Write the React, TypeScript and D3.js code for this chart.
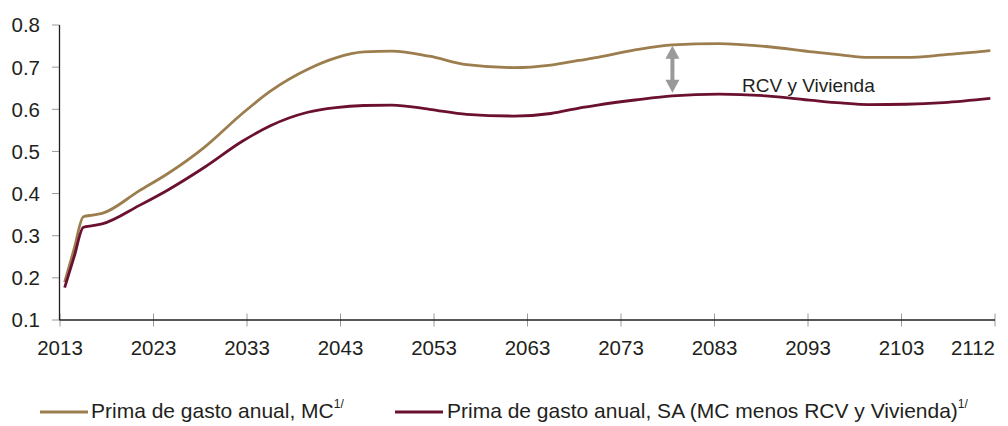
import React from 'react';
import * as d3 from 'd3';

// years (knots of the smoothed curves)
const years = [
  2013, 2014, 2015, 2016, 2017, 2021, 2024, 2028, 2032, 2035, 2039, 2042, 2045, 2048, 2052,
  2056, 2061, 2065, 2068, 2070, 2074, 2078, 2083, 2088, 2093, 2096, 2099, 2103, 2107, 2112,
];
// Prima de gasto anual, MC
const mcValues = [
  0.19, 0.268, 0.345, 0.349, 0.353, 0.407, 0.447, 0.511, 0.59, 0.643, 0.695, 0.722, 0.736, 0.738, 0.726,
  0.706, 0.699, 0.705, 0.716, 0.723, 0.741, 0.753, 0.756, 0.749, 0.736, 0.729, 0.723, 0.723, 0.729, 0.739,
];
// Prima de gasto anual, SA (MC menos RCV y Vivienda)
const saValues = [
  0.177, 0.249, 0.32, 0.324, 0.328, 0.372, 0.408, 0.463, 0.524, 0.561, 0.593, 0.604, 0.609, 0.61, 0.6,
  0.588, 0.584, 0.59, 0.603, 0.61, 0.622, 0.632, 0.636, 0.632, 0.621, 0.615, 0.611, 0.612, 0.616, 0.626,
];
const xTickYears = [2013, 2023, 2033, 2043, 2053, 2063, 2073, 2083, 2093, 2103];
const lastYearLabel = '2112';
const yTicks = [0.1, 0.2, 0.3, 0.4, 0.5, 0.6, 0.7, 0.8];
const seriesNames = ['Prima de gasto anual, MC', 'Prima de gasto anual, SA (MC menos RCV y Vivienda)'];
const gapLabel = 'RCV y Vivienda';
const gapYear = 2078;

const W = 1008;
const H = 426;
const FONT = '"Liberation Sans", Arial, Helvetica, sans-serif';
const TEXT = '#231f20';
const GOLD = '#9c7e4e';
const MAROON = '#6b1030';
const GREY = '#9a9a9c';

export default function App() {
  const allYears = d3.range(2013, 2113);
  const x = d3.scaleBand<number>().domain(allYears).range([60, 995]);
  const cx = (yr: number) => (x(yr) ?? 0) + x.bandwidth() / 2;
  const y = d3.scaleLinear().domain([0.1, 0.8]).range([320, 25]);

  const line = d3
    .line<number>()
    .x((_, i) => cx(years[i]))
    .y((v) => y(v))
    .curve(d3.curveMonotoneX);

  const gi = years.indexOf(gapYear);
  const ax = cx(gapYear);
  const aTop = y(mcValues[gi]) + 1;
  const aBot = y(saValues[gi]) - 3;

  return (
    <svg
      width={W}
      height={H}
      viewBox={`0 0 ${W} ${H}`}
      style={{ position: 'absolute', left: 0, top: 0, background: '#fff' }}
      fontFamily={FONT}
    >
      {/* y axis ticks + labels */}
      {yTicks.map((t) => (
        <g key={t}>
          <line x1={52} x2={59.5} y1={y(t)} y2={y(t)} stroke={GREY} strokeWidth={1} />
          <text x={40} y={y(t)} dy="0.36em" textAnchor="end" fontSize={20.5} fill={TEXT}>
            {t.toFixed(1)}
          </text>
        </g>
      ))}
      {/* x axis ticks + labels */}
      {xTickYears.map((yr) => (
        <g key={yr}>
          <line x1={x(yr)} x2={x(yr)} y1={313.5} y2={326.5} stroke={GREY} strokeWidth={1} />
          <text x={x(yr)} y={355} textAnchor="middle" fontSize={20.5} fill={TEXT}>
            {yr}
          </text>
        </g>
      ))}
      <line x1={995} x2={995} y1={313.5} y2={326.5} stroke={GREY} strokeWidth={1} />
      <text x={995} y={355} textAnchor="end" fontSize={20.5} fill={TEXT}>
        {lastYearLabel}
      </text>

      {/* axis lines */}
      <line x1={59.5} x2={59.5} y1={y(0.8)} y2={y(0.1)} stroke={TEXT} strokeWidth={1.3} />
      <line x1={59.5} x2={995} y1={y(0.1)} y2={y(0.1)} stroke={TEXT} strokeWidth={1.3} />

      {/* series */}
      <path d={line(mcValues) ?? ''} fill="none" stroke={GOLD} strokeWidth={2.8} strokeLinejoin="round" />
      <path d={line(saValues) ?? ''} fill="none" stroke={MAROON} strokeWidth={2.8} strokeLinejoin="round" />

      {/* gap arrow */}
      <g fill={GREY}>
        <rect x={ax - 2} y={aTop + 10} width={4} height={aBot - aTop - 20} />
        <path d={`M${ax},${aTop} L${ax + 7},${aTop + 13} L${ax - 7},${aTop + 13} Z`} />
        <path d={`M${ax},${aBot} L${ax + 7},${aBot - 13} L${ax - 7},${aBot - 13} Z`} />
      </g>
      <text x={742} y={92} fontSize={19} fill={TEXT}>
        {gapLabel}
      </text>

      {/* legend */}
      <line x1={40} x2={88} y1={412} y2={412} stroke={GOLD} strokeWidth={2.8} />
      <text x={91} y={418} fontSize={21} fill={TEXT}>
        {seriesNames[0]}
        <tspan fontSize={12} dy={-10}>1/</tspan>
      </text>
      <line x1={395} x2={443} y1={412} y2={412} stroke={MAROON} strokeWidth={2.8} />
      <text x={447} y={418} fontSize={21} fill={TEXT}>
        {seriesNames[1]}
        <tspan fontSize={12} dy={-10}>1/</tspan>
      </text>
    </svg>
  );
}
